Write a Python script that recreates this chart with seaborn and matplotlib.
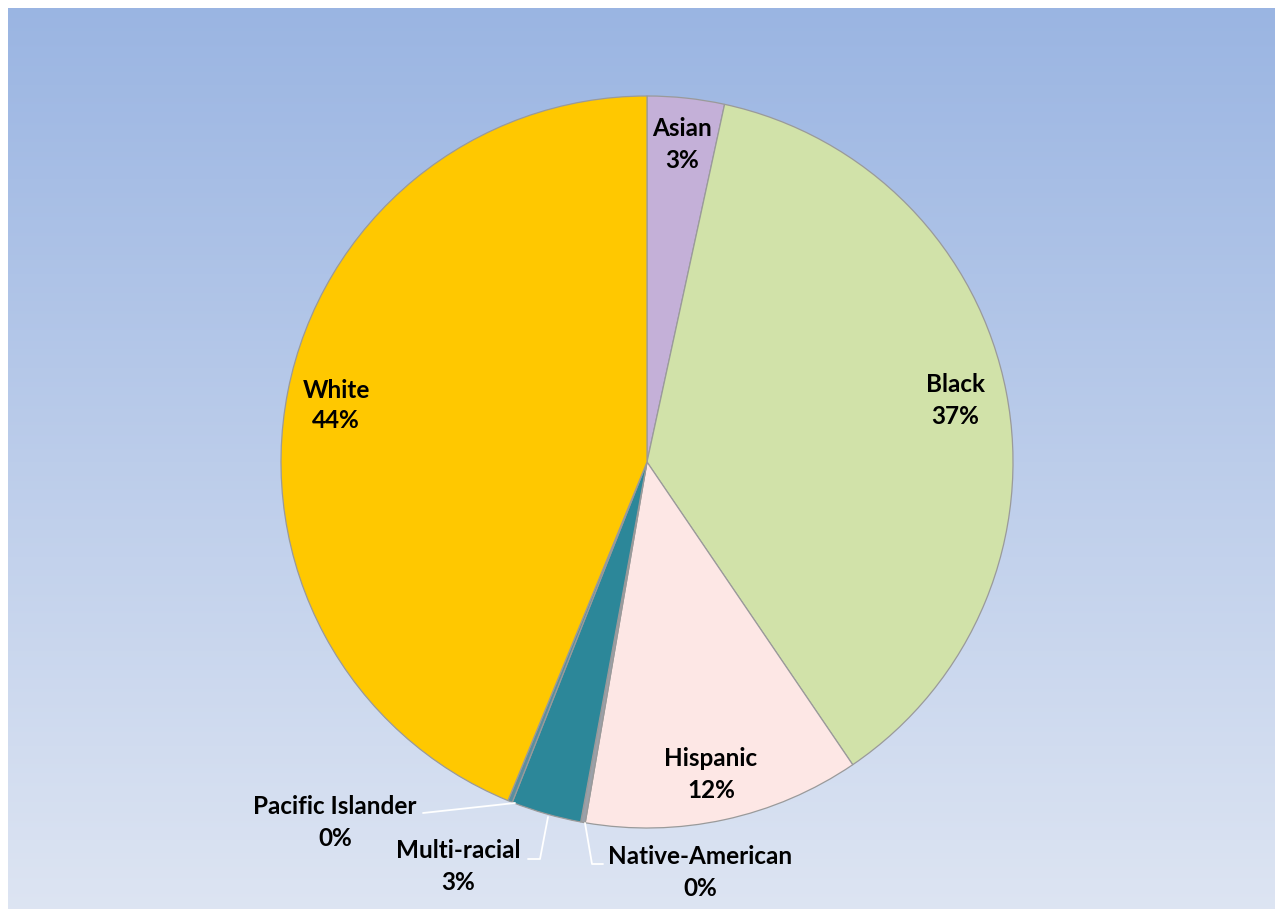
import numpy as np
import matplotlib
matplotlib.use("Agg")
import matplotlib.pyplot as plt
import seaborn as sns

sns.set_theme(style="white")
plt.rcParams['font.family'] = ['Lato', 'DejaVu Sans']

# data (clockwise from 12 o'clock)
groups = ["Asian", "Black", "Hispanic", "Native-American", "Multi-racial",
          "Pacific Islander", "White"]
shares = [3.4, 37.1, 12.2, 0.2, 3.1, 0.2, 43.8]
shown = ["3%", "37%", "12%", "0%", "3%", "0%", "44%"]
colors = ["#C4B0D8", "#D1E2A9", "#FDE7E5", "#9AA0A8", "#2C8799",
          "#5A8FA0", "#FFC800"]

W, H = 1275, 909
cx, cy, r = 647, 462, 366

# label centres in pixels: (x, name line y, percent line y)
label_px = {
    "Asian": (682, 129, 161),
    "Black": (955, 385, 416),
    "Hispanic": (711, 758, 790),
    "Native-American": (700, 857, 888),
    "Multi-racial": (458, 851, 883),
    "Pacific Islander": (335, 807, 839),
    "White": (336, 390, 421),
}
# leader lines for the thin slices, pixels
leaders_px = {
    "Native-American": [(585, 823), (592, 864), (603, 864)],
    "Multi-racial": [(548, 817), (540, 859), (528, 859)],
    "Pacific Islander": [(515, 803), (423, 813)],
}


def to_pie(px, py):
    return (px - cx) / r, (cy - py) / r


fig = plt.figure(figsize=(W / 100, H / 100), dpi=100)
fig.patch.set_facecolor("white")

# gradient background panel
bg = fig.add_axes([8 / W, -0.01, 1 - 8 / W + 0.01, 1.01 - 8 / H])
top = np.array([0x99, 0xB4, 0xE2]) / 255
bot = np.array([0xDF, 0xE6, 0xF3]) / 255
t = np.linspace(0, 1, 256)[:, None]
grad = (top * (1 - t) + bot * t)[:, None, :]
bg.imshow(grad, aspect="auto", extent=[0, 1, -0.02, 1.02],
          interpolation="bilinear")
bg.set_xlim(0, 1)
bg.set_ylim(0, 1)
bg.set_axis_off()

ax = fig.add_axes([(cx - r) / W, (H - cy - r) / H, 2 * r / W, 2 * r / H])

wedges, _ = ax.pie(shares, colors=colors, startangle=90, counterclock=False,
                   radius=1.0,
                   wedgeprops=dict(edgecolor="#9a9a9a", linewidth=0.9))
ax.set_xlim(-1, 1)
ax.set_ylim(-1, 1)
ax.set_axis_off()

for g, s in zip(groups, shown):
    px, py1, py2 = label_px[g]
    for txt, py in ((g, py1), (s, py2)):
        x, y = to_pie(px, py)
        ax.text(x, y, txt, ha="center", va="center", fontsize=17.5,
                fontweight="bold", color="black", clip_on=False)

for g, pts in leaders_px.items():
    xs, ys = zip(*[to_pie(*p) for p in pts])
    ax.plot(xs, ys, color="white", lw=1.3, clip_on=False)

fig.savefig("out.png", dpi=100)
